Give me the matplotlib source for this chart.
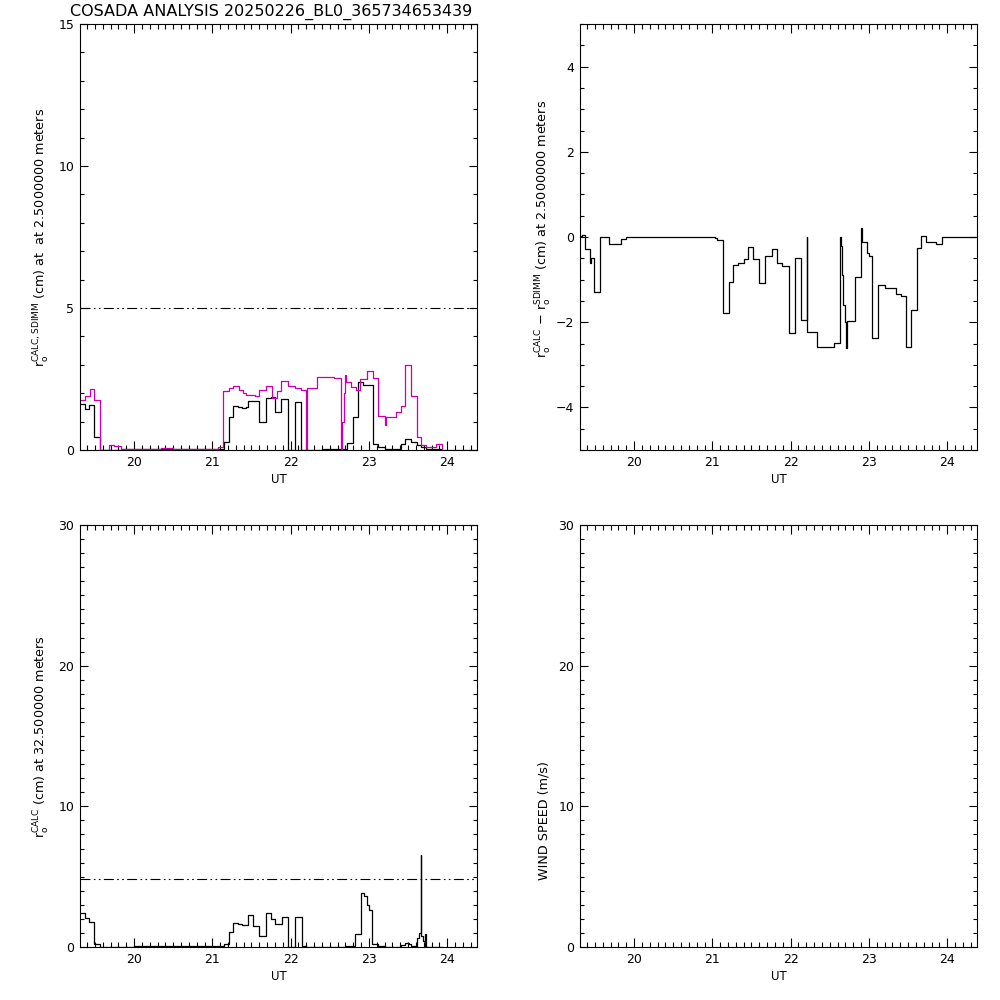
import numpy as np
import matplotlib.pyplot as plt
from matplotlib.ticker import MultipleLocator

title = "COSADA ANALYSIS 20250226_BL0_365734653439"

# r0 CALC at 2.5 m (black, top left)
ut_calc_low = [19.31, 19.38, 19.43, 19.49, 19.56, 19.83, 20.34, 21.07, 21.15, 21.21,
               21.27, 21.33, 21.38, 21.43, 21.46, 21.53, 21.60, 21.68, 21.75, 21.80,
               21.88, 21.97, 22.06, 22.13, 22.40, 22.63, 22.72, 22.80, 22.86, 22.93,
               23.05, 23.12, 23.21, 23.41, 23.46, 23.54, 23.61, 23.67, 23.73, 23.93]
r0_calc_low = [1.61, 1.46, 1.58, 0.46, 0.00, 0.02, 0.05, 0.04, 0.27, 1.16,
               1.56, 1.50, 1.47, 1.52, 1.72, 1.72, 0.97, 1.82, 1.87, 1.33,
               1.78, 0.00, 1.70, 0.00, 0.02, 0.05, 0.23, 1.15, 2.41, 2.30,
               0.20, 0.12, 0.02, 0.20, 0.39, 0.27, 0.18, 0.11, 0.04, 0.04]

# r0 SDIMM (magenta, top left)
ut_sdimm = [19.31, 19.38, 19.44, 19.49, 19.56, 19.68, 19.75, 19.83, 20.34, 20.50,
            21.07, 21.14, 21.21, 21.27, 21.34, 21.39, 21.43, 21.48, 21.54, 21.60,
            21.68, 21.76, 21.83, 21.88, 21.97, 22.06, 22.13, 22.20, 22.21, 22.34,
            22.56, 22.64, 22.66, 22.68, 22.70, 22.71, 22.77, 22.83, 22.88, 22.97,
            23.05, 23.12, 23.21, 23.22, 23.34, 23.41, 23.46, 23.54, 23.61, 23.67,
            23.73, 23.86, 23.93, 24.38]
r0_sdimm = [1.76, 1.89, 2.14, 1.76, 0.00, 0.18, 0.13, 0.05, 0.06, 0.02,
            0.10, 2.08, 2.20, 2.25, 2.10, 2.00, 1.93, 1.95, 1.90, 2.10,
            2.24, 1.84, 2.08, 2.43, 2.25, 2.19, 2.12, 0.00, 2.20, 2.57,
            2.52, 0.00, 1.00, 2.00, 2.65, 2.38, 2.23, 2.10, 2.50, 2.79,
            2.55, 1.21, 0.88, 1.16, 1.33, 1.56, 2.99, 1.91, 0.47, 0.18,
            0.11, 0.20, 0.00, 0.00]

# CALC - SDIMM (top right)
ut_diff = [19.31, 19.33, 19.38, 19.44, 19.45, 19.49, 19.56, 19.68, 19.75, 19.83, 19.90,
           21.03, 21.06, 21.14, 21.21, 21.26, 21.33, 21.40, 21.45, 21.52, 21.60, 21.67,
           21.76, 21.83, 21.89, 21.98,
           22.06, 22.13, 22.21, 22.215, 22.34, 22.56, 22.63, 22.635, 22.64, 22.65, 22.67,
           22.70, 22.71, 22.715, 22.82, 22.90, 22.905, 22.97,
           23.00, 23.04, 23.12, 23.20, 23.34, 23.41, 23.47, 23.54, 23.61, 23.67, 23.73,
           23.86, 23.93, 24.38]
r0_diff = [0.03, 0.05, -0.29, -0.62, -0.50, -1.30, 0.00, -0.17, -0.16, -0.04, -0.01,
           -0.03, -0.06, -1.79, -1.06, -0.65, -0.60, -0.52, -0.24, -0.52, -1.07, -0.45,
           -0.29, -0.62, -0.68, -2.25,
           -0.50, -1.94, 0.00, -2.23, -2.58, -2.49, -2.46, 0.00, -0.20, -0.90, -1.60,
           -2.00, -2.60, -1.98, -0.93, 0.20, -0.12, -0.37,
           -0.45, -2.38, -1.13, -1.20, -1.33, -1.38, -2.58, -1.71, -0.25, 0.03, -0.11,
           -0.16, 0.00, 0.00]

# r0 CALC at 32.5 m (bottom left)
ut_calc_high = [19.31, 19.38, 19.43, 19.49, 19.56, 20.00, 21.10, 21.15, 21.21, 21.27,
                21.33, 21.38, 21.45, 21.52, 21.60, 21.68, 21.75, 21.80, 21.89, 21.97,
                22.06, 22.14, 22.20, 22.71, 22.82, 22.90, 22.94, 22.97, 23.00, 23.04,
                23.12, 23.21, 23.41, 23.46, 23.51, 23.54, 23.61, 23.64, 23.670, 23.671,
                23.69, 23.71, 23.72, 23.725, 23.93]
r0_calc_high = [2.43, 2.05, 1.81, 0.21, 0.00, 0.05, 0.05, 0.20, 1.05, 1.74,
                1.64, 1.57, 2.29, 1.52, 0.81, 2.40, 2.00, 1.62, 2.10, 0.00,
                2.10, 0.10, 0.00, 0.05, 0.90, 3.83, 3.60, 3.00, 2.60, 0.20,
                0.05, 0.00, 0.15, 0.30, 0.20, 0.05, 0.62, 1.00, 6.55, 0.80,
                0.40, 0.10, 0.90, 0.00, 0.00]

limit_low = 5.0
limit_high = 4.8

ut_range = [19.31, 24.38]
ut_ticks = [20, 21, 22, 23, 24]

magenta = '#cc00aa'
dashes = (0, (9, 3, 1.5, 3, 1.5, 3))

fig = plt.figure(figsize=(10, 10), dpi=100)


def setup(ax, ylim, ymajor, yminor, ylabel, labx, laby):
    ax.set_xlim(ut_range)
    ax.set_ylim(ylim)
    ax.set_xticks(ut_ticks)
    ax.xaxis.set_minor_locator(MultipleLocator(0.1))
    ax.yaxis.set_major_locator(MultipleLocator(ymajor))
    ax.yaxis.set_minor_locator(MultipleLocator(yminor))
    ax.tick_params(which='both', direction='in', top=True, right=True,
                   labelsize=9, width=0.8, pad=4)
    ax.tick_params(axis='x', which='major', length=6.5)
    ax.tick_params(axis='x', which='minor', length=3.6)
    ax.tick_params(axis='y', which='major', length=6)
    ax.tick_params(axis='y', which='minor', length=3.2)
    for s in ax.spines.values():
        s.set_linewidth(0.8)
    ax.set_xlabel("UT", fontsize=8.5, labelpad=3)
    ax.set_ylabel(ylabel, fontsize=9.2)
    ax.yaxis.set_label_coords(labx, laby)


# top left
ax1 = fig.add_axes([0.08, 0.55, 0.397, 0.426])
ax1.plot(ut_calc_low, r0_calc_low, drawstyle='steps-post', color='k', lw=0.9)
ax1.plot(ut_sdimm, r0_sdimm, drawstyle='steps-post', color=magenta, lw=0.9)
ax1.axhline(limit_low, color='k', lw=0.8, linestyle=dashes)
setup(ax1, (0, 15), 5, 1,
      r'$\mathregular{r_o^{CALC,SDIMM}}$ (cm) at  at 2.5000000 meters', -0.07, 0.5)
fig.text(0.07, 0.984, title, fontsize=11.5, va='baseline', ha='left')

# top right
ax2 = fig.add_axes([0.58, 0.55, 0.397, 0.426])
ax2.plot(ut_diff, r0_diff, drawstyle='steps-post', color='k', lw=0.9)
setup(ax2, (-5, 5), 2, 0.5,
      r'$\mathregular{r_o^{CALC}}$ $-$ $\mathregular{r_o^{SDIMM}}$ (cm) at 2.5000000 meters',
      -0.065, 0.52)

# bottom left
ax3 = fig.add_axes([0.08, 0.053, 0.397, 0.422])
ax3.plot(ut_calc_high, r0_calc_high, drawstyle='steps-post', color='k', lw=0.9)
ax3.axhline(limit_high, color='k', lw=0.8, linestyle=dashes)
setup(ax3, (0, 30), 10, 1,
      r'$\mathregular{r_o^{CALC}}$ (cm) at 32.500000 meters', -0.07, 0.5)

# bottom right: wind speed (no data)
ax4 = fig.add_axes([0.58, 0.053, 0.397, 0.422])
setup(ax4, (0, 30), 10, 1, "WIND SPEED (m/s)", -0.075, 0.30)

plt.savefig('out.png', dpi=100)
